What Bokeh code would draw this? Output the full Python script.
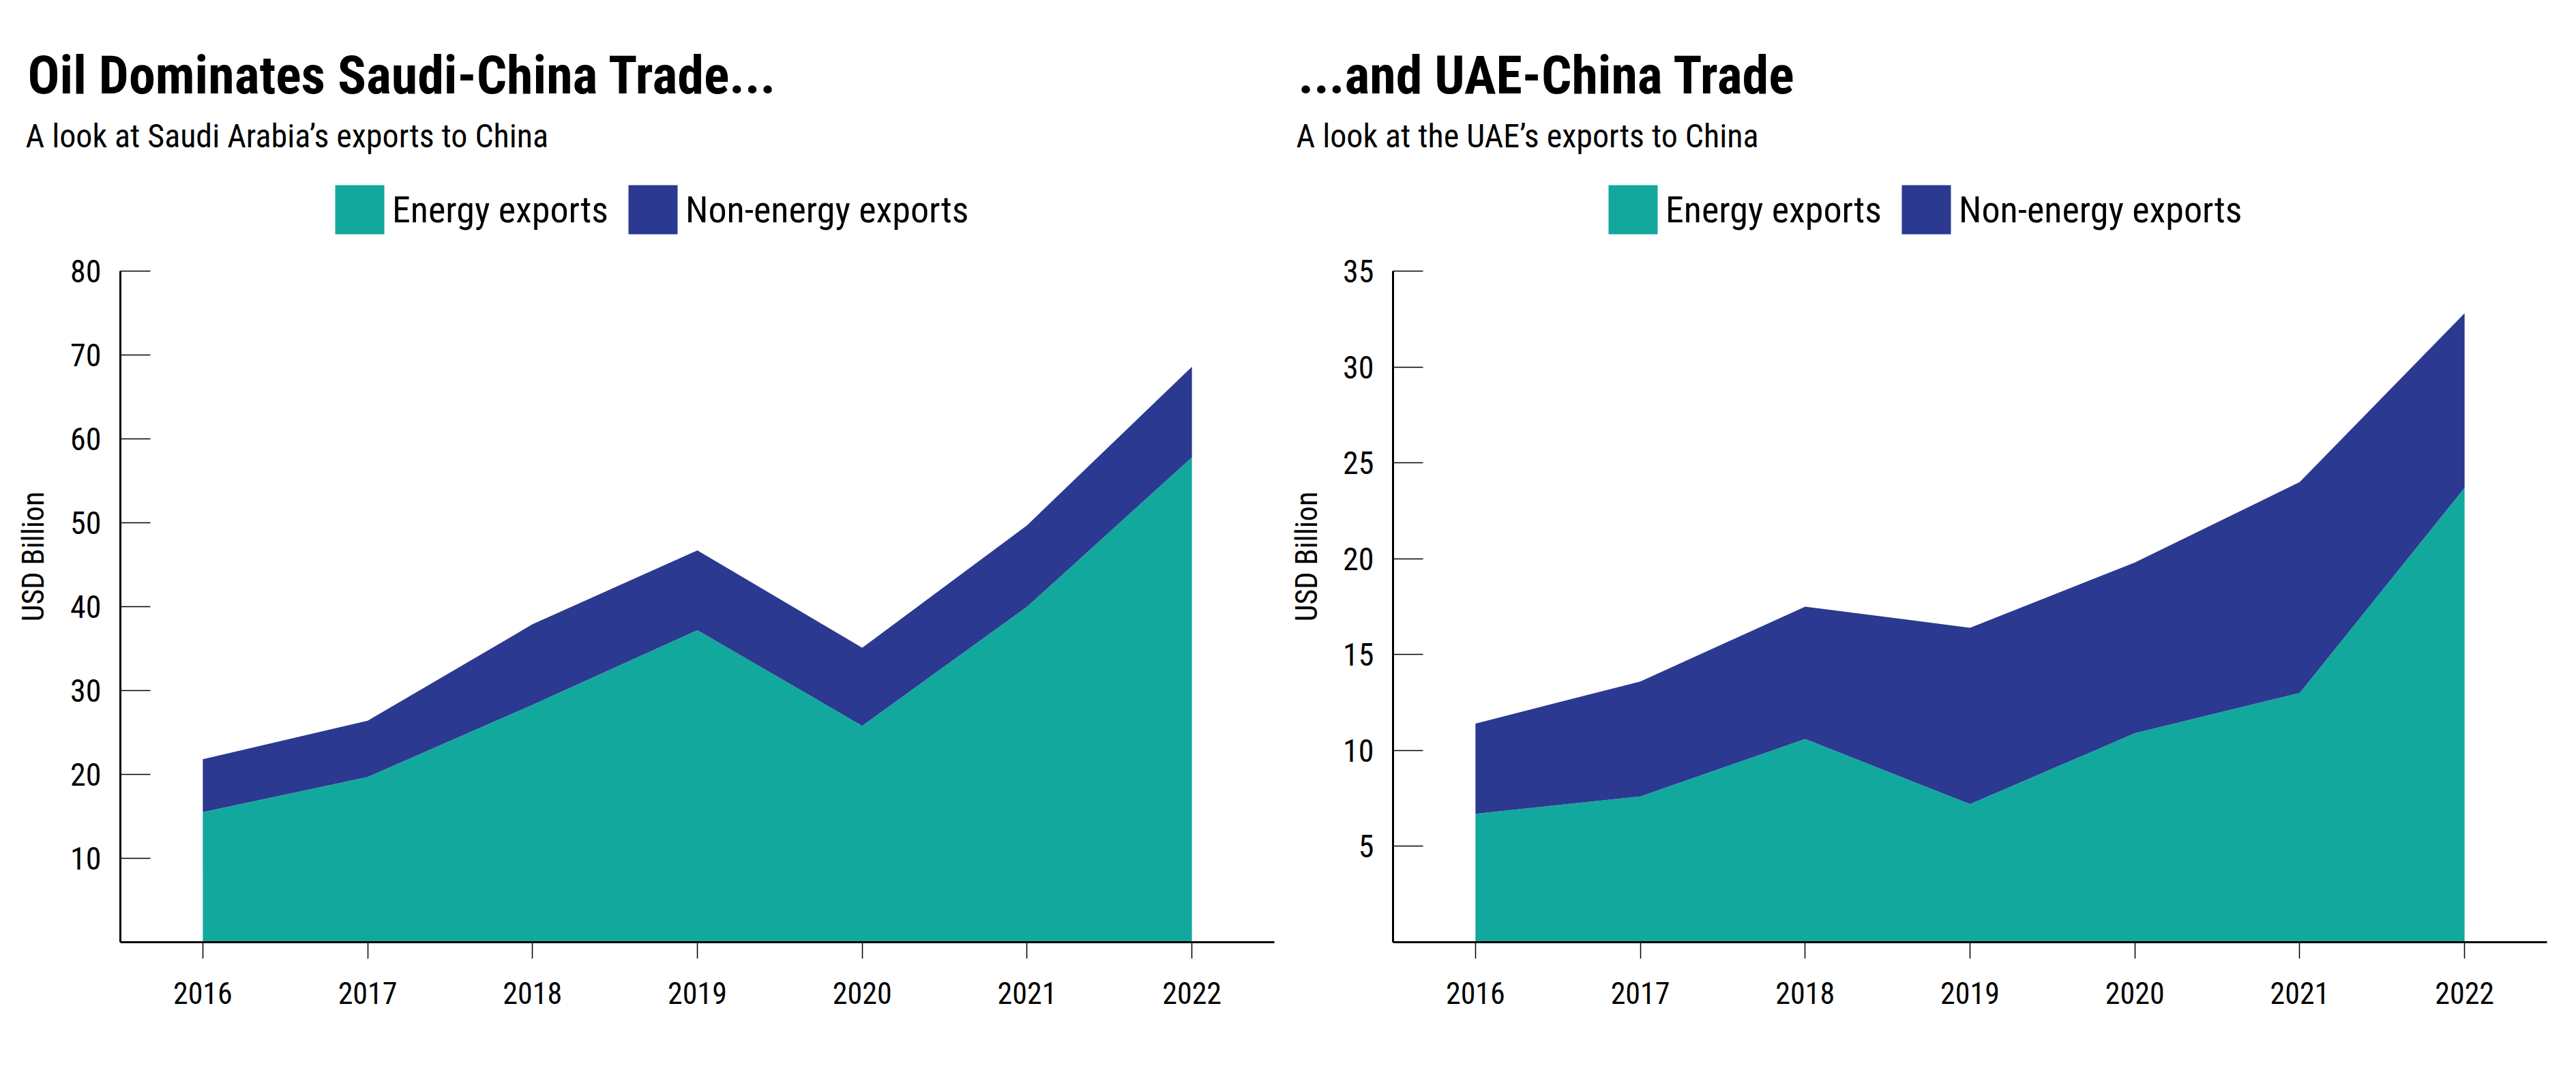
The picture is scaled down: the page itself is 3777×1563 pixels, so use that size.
from bokeh.plotting import figure
from bokeh.models import Range1d, FixedTicker, Legend, LegendItem, ColumnDataSource
from bokeh.layouts import row, column
from bokeh.embed import file_html
from bokeh.resources import INLINE
from bokeh.core.properties import value

years = [2016, 2017, 2018, 2019, 2020, 2021, 2022]
saudi_energy = [15.5, 19.7, 28.3, 37.2, 25.8, 40.0, 57.8]
saudi_non_energy = [6.3, 6.7, 9.6, 9.5, 9.3, 9.7, 10.8]
uae_energy = [6.7, 7.6, 10.6, 7.2, 10.9, 13.0, 23.7]
uae_non_energy = [4.7, 6.0, 6.9, 9.2, 8.9, 11.0, 9.1]
saudi_ticks = [10, 20, 30, 40, 50, 60, 70, 80]
uae_ticks = [5, 10, 15, 20, 25, 30, 35]
series_labels = ["Energy exports", "Non-energy exports"]
colors = ["#13A89E", "#2B3990"]

FONT = "Roboto Condensed, DejaVu Sans Condensed, Liberation Sans Narrow, Roboto"
HEAD_H = 250          # header strip (titles)
FRAME_W = 1692
AXIS_PX = 984         # pixels from 0 to the top tick
FRAME_H = 1131        # frame extends above top tick to hold the legend


def make_header(width, title, subtitle, tx):
    h = figure(width=width, height=HEAD_H, x_range=Range1d(0, width),
               y_range=Range1d(HEAD_H, 0), output_backend="svg",
               toolbar_location=None, min_border=0, x_axis_location=None,
               y_axis_location=None, title_location=None)
    h.outline_line_color = None
    h.xgrid.visible = False
    h.ygrid.visible = False
    h.text(x=[tx], y=[110], text=[title], text_font=value(FONT),
           text_font_style="bold", text_font_size="78px", text_color="black",
           text_baseline="alphabetic", text_align="left")
    h.text(x=[tx - 3], y=[199], text=[subtitle], text_font=value(FONT),
           text_font_size="48px", text_color="black",
           text_baseline="alphabetic", text_align="left")
    return h


def make_chart(energy, non_energy, ymax, yticks, border_left, border_right,
               ylabel_standoff, legend_x):
    src = ColumnDataSource(dict(year=years, energy=energy, non_energy=non_energy))
    ytop = ymax * FRAME_H / AXIS_PX
    p = figure(frame_width=FRAME_W, frame_height=FRAME_H,
               x_range=Range1d(2015.5, 2022.5), y_range=Range1d(0, ytop),
               output_backend="svg", toolbar_location=None, title_location=None,
               min_border_left=border_left, min_border_right=border_right,
               min_border_top=0, min_border_bottom=169)
    p.outline_line_color = None
    p.xgrid.visible = False
    p.ygrid.visible = False

    rs = p.varea_stack(["energy", "non_energy"], x="year", source=src, color=colors)

    xa = p.xaxis[0]
    xa.ticker = FixedTicker(ticks=years)
    xa.axis_line_width = 3
    xa.axis_line_color = "black"
    xa.major_tick_in = 0
    xa.major_tick_out = 24
    xa.major_tick_line_width = 1.5
    xa.minor_tick_line_color = None
    xa.major_label_standoff = 34
    xa.major_label_text_font = FONT
    xa.major_label_text_font_size = "44px"
    xa.major_label_text_color = "black"

    ya = p.yaxis[0]
    ya.ticker = FixedTicker(ticks=yticks)
    ya.bounds = (0, ymax)
    ya.axis_line_width = 3
    ya.axis_line_color = "black"
    ya.major_tick_in = 44
    ya.major_tick_out = 0
    ya.major_tick_line_width = 1.5
    ya.minor_tick_line_color = None
    ya.major_label_standoff = 28
    ya.major_label_text_font = FONT
    ya.major_label_text_font_size = "46px"
    ya.major_label_text_color = "black"
    ya.axis_label = "USD Billion"
    ya.axis_label_text_font = FONT
    ya.axis_label_text_font_size = "44px"
    ya.axis_label_text_font_style = "normal"
    ya.axis_label_text_color = "black"
    ya.axis_label_standoff = ylabel_standoff

    # legend glyphs are drawn with a 10% inset, so the boxes are 90px for 72px squares
    legend = Legend(items=[LegendItem(label=series_labels[i], renderers=[rs[i]])
                           for i in range(2)],
                    location=(legend_x, 1029), orientation="horizontal",
                    glyph_width=90, glyph_height=90, label_standoff=3, spacing=20,
                    padding=0, margin=0, border_line_color=None,
                    background_fill_alpha=0,
                    label_text_font=FONT, label_text_font_size="54px",
                    label_text_color="black")
    p.add_layout(legend)
    return p


W1 = 1874
W2 = 1896
h1 = make_header(W1, "Oil Dominates Saudi-China Trade...",
                 "A look at Saudi Arabia\u2019s exports to China", 40)
h2 = make_header(W2, "...and UAE-China Trade",
                 "A look at the UAE\u2019s exports to China", 29)
p1 = make_chart(saudi_energy, saudi_non_energy, 80, saudi_ticks, 176, 6, 25, 306)
p2 = make_chart(uae_energy, uae_non_energy, 35, uae_ticks, 168, 36, 24, 307)

layout = column(row(h1, h2, spacing=0), row(p1, p2, spacing=0), spacing=0)
open("out.html", "w").write(file_html(layout, INLINE))
